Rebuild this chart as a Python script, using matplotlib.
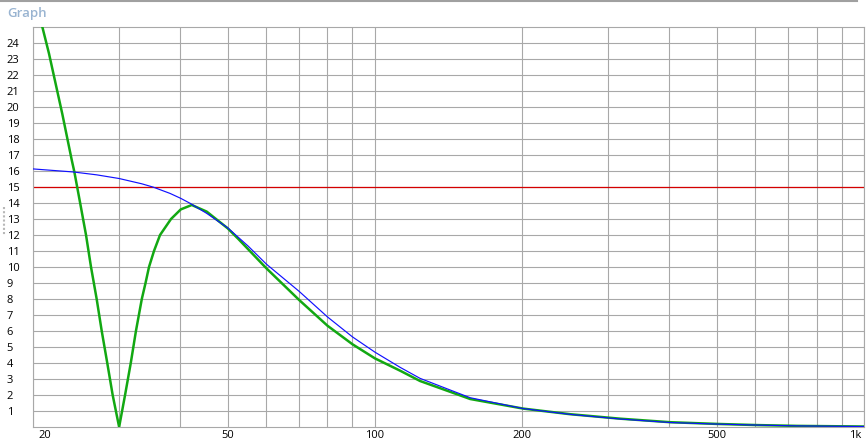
import matplotlib
matplotlib.use("Agg")
import matplotlib.pyplot as plt
from matplotlib.lines import Line2D
from matplotlib.transforms import ScaledTranslation

# ---- data ----
blue_freq = [20, 24.17, 26.99, 30, 33.38, 35.24, 38.12, 40.1, 41.9, 45.32, 50, 55.1,
             60, 70, 80, 90, 100, 112.6, 123.7, 156.6, 201, 250.7, 317.3, 401.5,
             503, 605, 730, 1000]
blue_val = [16.13, 15.94, 15.76, 15.53, 15.2, 14.99, 14.6, 14.29, 13.98, 13.35, 12.45, 11.3,
            10.18, 8.48, 6.88, 5.63, 4.68, 3.73, 3.04, 1.83, 1.15, 0.79, 0.5, 0.28,
            0.18, 0.12, 0.07, 0.03]

green_freq = [20, 20.9, 21.56, 22.96, 24.0, 24.30, 24.97, 25.67, 26.28, 26.99, 27.64,
              28.37, 29.10, 30.0, 30.85, 31.69, 32.47, 33.38, 33.97, 34.53, 35.35,
              36.37, 38.30, 40.1, 42.23, 45.32, 50, 52.59, 60, 70, 80, 90, 100, 112.6,
              123.7, 156.6, 201, 250.7, 317.3, 401.5, 503, 605, 730, 1000]
green_val = [27.3, 25.0, 23.35, 19.56, 16.69, 15.94, 14.0, 12.0, 10.0, 8.0, 6.0,
             4.0, 2.0, 0.0, 2.0, 4.0, 6.0, 8.0, 9.0, 10.0, 11.0,
             12.0, 13.0, 13.6, 13.875, 13.46, 12.42, 11.75, 9.92, 7.94, 6.33, 5.17, 4.29, 3.52,
             2.875, 1.75, 1.15, 0.8, 0.52, 0.3, 0.19, 0.12, 0.07, 0.03]

ref_level = 15

x_ticks = [20, 30, 40, 50, 60, 70, 80, 90, 100, 200, 300, 400, 500, 600, 700, 800, 900, 1000]
x_labels = ['20', '', '', '50', '', '', '', '', '100', '200', '', '', '500', '', '', '', '', '1k']
y_ticks = list(range(1, 25))
y_labels = [str(v) for v in y_ticks]

# ---- figure ----
W, H = 868, 443
fig = plt.figure(figsize=(W / 100, H / 100), dpi=100)
fig.patch.set_facecolor('white')
ax = fig.add_axes([33 / W, 1 - 427 / H, (864 - 33) / W, (427 - 27) / H])

grid_c = '#a8a8a8'
ax.set_xscale('log')
ax.set_xlim(20, 1000)
ax.set_ylim(0, 25)
ax.set_xticks(x_ticks, x_labels)
ax.set_xticks([], minor=True)
ax.set_yticks(y_ticks, y_labels)
ax.grid(True, which='major', color=grid_c, linewidth=0.8)
ax.set_axisbelow(True)
for s in ax.spines.values():
    s.set_color(grid_c)
    s.set_linewidth(0.8)

font = 'Open Sans'
ax.tick_params(axis='both', length=0, labelsize=8, labelcolor='#000000')
ax.tick_params(axis='x', pad=2.5)
ax.tick_params(axis='y', pad=19)
for lab in ax.get_yticklabels():
    lab.set_fontfamily(font)
    lab.set_horizontalalignment('left')
xl = ax.get_xticklabels()
for lab in xl:
    lab.set_fontfamily(font)
xl[0].set_horizontalalignment('left')
xl[0].set_transform(xl[0].get_transform() + ScaledTranslation(5 / 100, 0, fig.dpi_scale_trans))
xl[-1].set_horizontalalignment('right')
xl[-1].set_transform(xl[-1].get_transform() + ScaledTranslation(-3 / 100, 0, fig.dpi_scale_trans))

ax.axhline(ref_level, color='#d40000', linewidth=0.9, zorder=2)
ax.plot(green_freq, green_val, color='#12a812', linewidth=1.8, zorder=3, clip_on=True,
        solid_joinstyle='round')
ax.plot(blue_freq, blue_val, color='#1010ff', linewidth=0.85, zorder=4)

# window decorations
fig.text(7 / W, 1 - 14 / H, 'Graph', color='#99b4d1', fontsize=9.5,
         fontfamily=font, fontweight='semibold', ha='left', va='center')
fig.add_artist(Line2D([0, 857 / W], [1 - 1 / H, 1 - 1 / H], color='#a0a0a0', linewidth=1.5,
                      transform=fig.transFigure))
fig.add_artist(Line2D([4 / W, 4 / W], [1 - 207 / H, 1 - 236 / H], color='#b8b8b8', linewidth=1.5,
                      linestyle=(0, (1, 1)), transform=fig.transFigure))

fig.savefig('out.png', dpi=100, facecolor='white')
